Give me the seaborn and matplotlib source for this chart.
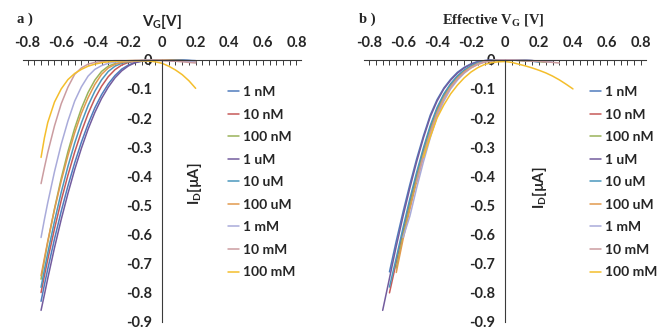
"""
Drain current vs gate voltage for nine concentrations:
a) against the applied V_G, b) against the effective V_G.
"""

import numpy as np
import pandas as pd
import matplotlib
matplotlib.use('Agg')
import matplotlib.pyplot as plt
from matplotlib.ticker import MultipleLocator
import seaborn as sns

nan = np.nan

# Series names and colours
CONCENTRATIONS = ['1 nM', '10 nM', '100 nM', '1 uM', '10 uM', '100 uM', '1 mM', '10 mM', '100 mM']
COLORS = ['#4F7CBD', '#C65A58', '#9AB35A', '#735C9E', '#4A97BD',
          '#E19A4E', '#A9ABDA', '#CB9CA0', '#F4BE2C']

# Panel a: applied gate voltage [V]
VG = [-0.72, -0.70, -0.68, -0.64, -0.60, -0.56, -0.52, -0.48, -0.44, -0.40, -0.36, -0.32, -0.28,
      -0.24, -0.20, -0.16, -0.12, -0.08, -0.04, 0.00, 0.04, 0.08, 0.12, 0.16, 0.20]

# Panel a: drain current [uA]
A_1NM = [-0.829, -0.772, -0.718, -0.615, -0.520, -0.433, -0.354, -0.283, -0.220, -0.165, -0.120, -0.083, -0.054,
         -0.032, -0.018, -0.009, -0.004, -0.002, -0.001, 0.0, 0.0, -0.001, -0.001, -0.002, -0.003]
A_10NM = [-0.799, -0.741, -0.685, -0.580, -0.483, -0.396, -0.317, -0.247, -0.185, -0.133, -0.091, -0.058, -0.034,
          -0.018, -0.009, -0.005, -0.003, -0.002, -0.001, 0.0, -0.001, -0.002, -0.003, -0.005, -0.007]
A_100NM = [-0.753, -0.688, -0.626, -0.511, -0.407, -0.315, -0.235, -0.167, -0.112, -0.070, -0.040, -0.022, -0.013,
           -0.008, -0.005, -0.004, -0.003, -0.002, -0.001, 0.0, -0.001, -0.002, -0.003, -0.004, -0.006]
A_1UM = [-0.860, -0.806, -0.750, -0.645, -0.548, -0.459, -0.377, -0.304, -0.238, -0.181, -0.133, -0.094, -0.062,
         -0.038, -0.021, -0.010, -0.005, -0.002, -0.001, 0.0, 0.0, -0.001, -0.002, -0.003, -0.004]
A_10UM = [-0.781, -0.721, -0.663, -0.554, -0.455, -0.366, -0.286, -0.217, -0.157, -0.108, -0.069, -0.040, -0.022,
          -0.012, -0.007, -0.004, -0.003, -0.002, -0.001, 0.0, -0.001, -0.001, -0.002, -0.003, -0.004]
A_100UM = [-0.741, -0.681, -0.622, -0.514, -0.416, -0.329, -0.251, -0.184, -0.130, -0.085, -0.050, -0.028, -0.016,
           -0.009, -0.006, -0.004, -0.003, -0.002, -0.001, 0.0, -0.001, -0.002, -0.003, -0.004, -0.005]
A_1MM = [-0.610, -0.548, -0.490, -0.384, -0.290, -0.210, -0.142, -0.093, -0.056, -0.033, -0.020, -0.012, -0.008,
         -0.005, -0.004, -0.003, -0.002, -0.002, -0.002, -0.002, -0.003, -0.004, -0.005, -0.006, -0.008]
A_10MM = [-0.425, -0.370, -0.318, -0.227, -0.151, -0.094, -0.050, -0.028, -0.015, -0.009, -0.006, -0.004, -0.003,
          -0.003, -0.003, -0.002, -0.002, -0.002, -0.002, -0.003, -0.004, -0.005, -0.007, -0.009, -0.011]
A_100MM = [-0.335, -0.268, -0.215, -0.145, -0.100, -0.068, -0.047, -0.033, -0.022, -0.015, -0.010, -0.007, -0.005,
           -0.004, -0.003, -0.003, -0.003, -0.004, -0.007, -0.012, -0.022, -0.035, -0.051, -0.072, -0.098]

# Panel b: effective gate voltage [V]
VB = [-0.72, -0.68, -0.64, -0.60, -0.56, -0.52, -0.48, -0.44, -0.40, -0.36, -0.32, -0.28, -0.24, -0.20, -0.16,
      -0.12, -0.08, -0.04, 0.00, 0.04, 0.08, 0.12, 0.16, 0.20, 0.24, 0.28, 0.32, 0.36, 0.40]

# Panel b: drain current [uA] (nan = outside the measured range)
B_1NM = [nan, -0.728, -0.622, -0.522, -0.428, -0.340, -0.261, -0.190, -0.137, -0.097, -0.067, -0.043, -0.026,
         -0.014, -0.006, -0.003, -0.001, 0.0, 0.0, -0.001, -0.002, -0.003, -0.005, -0.008, nan, nan, nan, nan, nan]
B_10NM = [nan, -0.800, -0.695, -0.589, -0.489, -0.395, -0.309, -0.232, -0.169, -0.121, -0.085, -0.058, -0.037,
          -0.022, -0.011, -0.005, -0.002, -0.001, 0.0, 0.0, -0.001, -0.002, -0.003, -0.004, -0.006, nan, nan, nan, nan]
B_100NM = [nan, nan, -0.715, -0.603, -0.502, -0.407, -0.320, -0.241, -0.176, -0.126, -0.089, -0.061, -0.039,
           -0.024, -0.012, -0.006, -0.003, -0.001, 0.0, -0.001, -0.002, -0.003, -0.004, -0.006, -0.008, nan, nan, nan, nan]
B_1UM = [-0.860, -0.750, -0.640, -0.537, -0.440, -0.350, -0.268, -0.196, -0.142, -0.100, -0.070, -0.046, -0.028,
         -0.015, -0.007, -0.003, -0.001, 0.0, 0.0, 0.0, -0.001, -0.002, -0.003, -0.005, nan, nan, nan, nan, nan]
B_10UM = [nan, -0.780, -0.680, -0.576, -0.477, -0.386, -0.302, -0.226, -0.164, -0.117, -0.082, -0.055, -0.035,
          -0.020, -0.010, -0.005, -0.002, -0.001, 0.0, 0.0, -0.001, -0.002, -0.003, -0.005, -0.007, nan, nan, nan, nan]
B_100UM = [nan, nan, -0.730, -0.616, -0.514, -0.418, -0.330, -0.250, -0.183, -0.131, -0.093, -0.064, -0.041,
           -0.025, -0.013, -0.006, -0.003, -0.001, 0.0, -0.001, -0.002, -0.003, -0.004, -0.005, -0.007, nan, nan, nan, nan]
B_1MM = [nan, nan, nan, -0.610, -0.537, -0.440, -0.350, -0.268, -0.196, -0.142, -0.100, -0.070, -0.046,
         -0.028, -0.015, -0.007, -0.003, -0.001, 0.0, 0.0, -0.001, -0.002, -0.003, -0.004, -0.006, -0.008, nan, nan, nan]
B_10MM = [nan, nan, nan, nan, nan, -0.420, -0.330, -0.252, -0.185, -0.134, -0.095, -0.066, -0.044,
          -0.028, -0.016, -0.008, -0.004, -0.002, -0.001, -0.001, -0.002, -0.003, -0.004, -0.005, -0.007, -0.009, -0.011, nan, nan]
B_100MM = [nan, nan, nan, nan, nan, nan, -0.335, -0.265, -0.200, -0.155, -0.117, -0.087, -0.062,
           -0.042, -0.027, -0.016, -0.010, -0.007, -0.006, -0.009, -0.015, -0.021, -0.028, -0.036, -0.045, -0.056, -0.069, -0.084, -0.100]

XTICKS = [-0.8, -0.6, -0.4, -0.2, 0, 0.2, 0.4, 0.6, 0.8]
YTICKS = [0, -0.1, -0.2, -0.3, -0.4, -0.5, -0.6, -0.7, -0.8, -0.9]

AXIS_COLOR = '#3a3a3a'


def long_form(x, series):
    """Stack the per-concentration arrays into one long dataframe"""
    frames = [pd.DataFrame({'V': x, 'I': vals, 'conc': name})
              for name, vals in zip(CONCENTRATIONS, series)]
    return pd.concat(frames, ignore_index=True).dropna()


def draw_panel(ax, df, legend_anchor):
    sns.lineplot(data=df, x='V', y='I', hue='conc', hue_order=CONCENTRATIONS,
                 palette=dict(zip(CONCENTRATIONS, COLORS)), estimator=None,
                 linewidth=1.1, clip_on=False, ax=ax)

    ax.set_xlim(-0.83, 0.83)
    ax.set_ylim(-0.9, 0)
    ax.set_xlabel('')
    ax.set_ylabel('')

    # Excel-like axes crossing at the origin
    ax.spines['bottom'].set_visible(False)
    ax.spines['right'].set_visible(False)
    ax.spines['left'].set_position(('data', 0))
    for s in ['left', 'top']:
        ax.spines[s].set_color(AXIS_COLOR)
        ax.spines[s].set_linewidth(0.8)

    ax.xaxis.tick_top()
    ax.set_xticks(XTICKS, labels=[f'{t:g}' for t in XTICKS])
    ax.set_yticks(YTICKS, labels=[f'{t:g}' for t in YTICKS])
    ax.xaxis.set_minor_locator(MultipleLocator(0.04))
    ax.yaxis.set_minor_locator(MultipleLocator(0.02))
    ax.tick_params(axis='x', which='both', direction='in', length=3.5, width=0.7,
                   color=AXIS_COLOR, top=True, bottom=False, labeltop=True,
                   labelbottom=False, pad=7, labelsize=10.5)
    ax.tick_params(axis='y', which='both', direction='inout', length=4, width=0.7,
                   color=AXIS_COLOR, pad=5, labelsize=10.5)
    for lab in ax.get_xticklabels() + ax.get_yticklabels():
        lab.set_fontweight('bold')

    sns.move_legend(ax, 'upper left', bbox_to_anchor=legend_anchor, frameon=False,
                    title=None, fontsize=10, handlelength=0.8, handletextpad=0.3,
                    labelspacing=0.76, borderpad=0, borderaxespad=0)
    for txt in ax.get_legend().get_texts():
        txt.set_fontweight('bold')


sns.set_style('white')
plt.rcParams['font.family'] = ['Lato', 'DejaVu Sans']
plt.rcParams['font.weight'] = 'bold'
plt.rcParams['axes.unicode_minus'] = False
plt.rcParams['mathtext.default'] = 'regular'

fig = plt.figure(figsize=(6.6, 3.29), dpi=100)
ax_a = fig.add_axes([0.0342, 0.0213, 0.4226, 0.797])
ax_b = fig.add_axes([0.5515, 0.0213, 0.4273, 0.797])

draw_panel(ax_a, long_form(VG, [A_1NM, A_10NM, A_100NM, A_1UM, A_10UM, A_100UM, A_1MM, A_10MM, A_100MM]),
           (0.736, 0.90))
draw_panel(ax_b, long_form(VB, [B_1NM, B_10NM, B_100NM, B_1UM, B_10UM, B_100UM, B_1MM, B_10MM, B_100MM]),
           (0.80, 0.90))

# Axis titles and panel labels
fig.text(0.245, 0.935, 'V$_\\mathregular{G}$[V]', ha='center', va='center',
         fontsize=11, fontweight='bold')
fig.text(0.747, 0.94, 'Effective V$_\\mathregular{G}$ [V]', ha='center', va='center',
         fontsize=10.5, fontweight='bold', family=['Liberation Serif', 'DejaVu Serif'])
fig.text(0.295, 0.44, 'I$_\\mathregular{D}$[µA]', ha='center', va='center', rotation=90,
         fontsize=10.5, fontweight='bold')
fig.text(0.818, 0.43, 'I$_\\mathregular{D}$[µA]', ha='center', va='center', rotation=90,
         fontsize=10.5, fontweight='bold')
fig.text(0.038, 0.942, 'a )', ha='center', va='center', fontsize=10.5,
         fontweight='bold', family=['Liberation Serif', 'DejaVu Serif'])
fig.text(0.556, 0.942, 'b )', ha='center', va='center', fontsize=10.5,
         fontweight='bold', family=['Liberation Serif', 'DejaVu Serif'])

fig.savefig('out.png', dpi=100)
